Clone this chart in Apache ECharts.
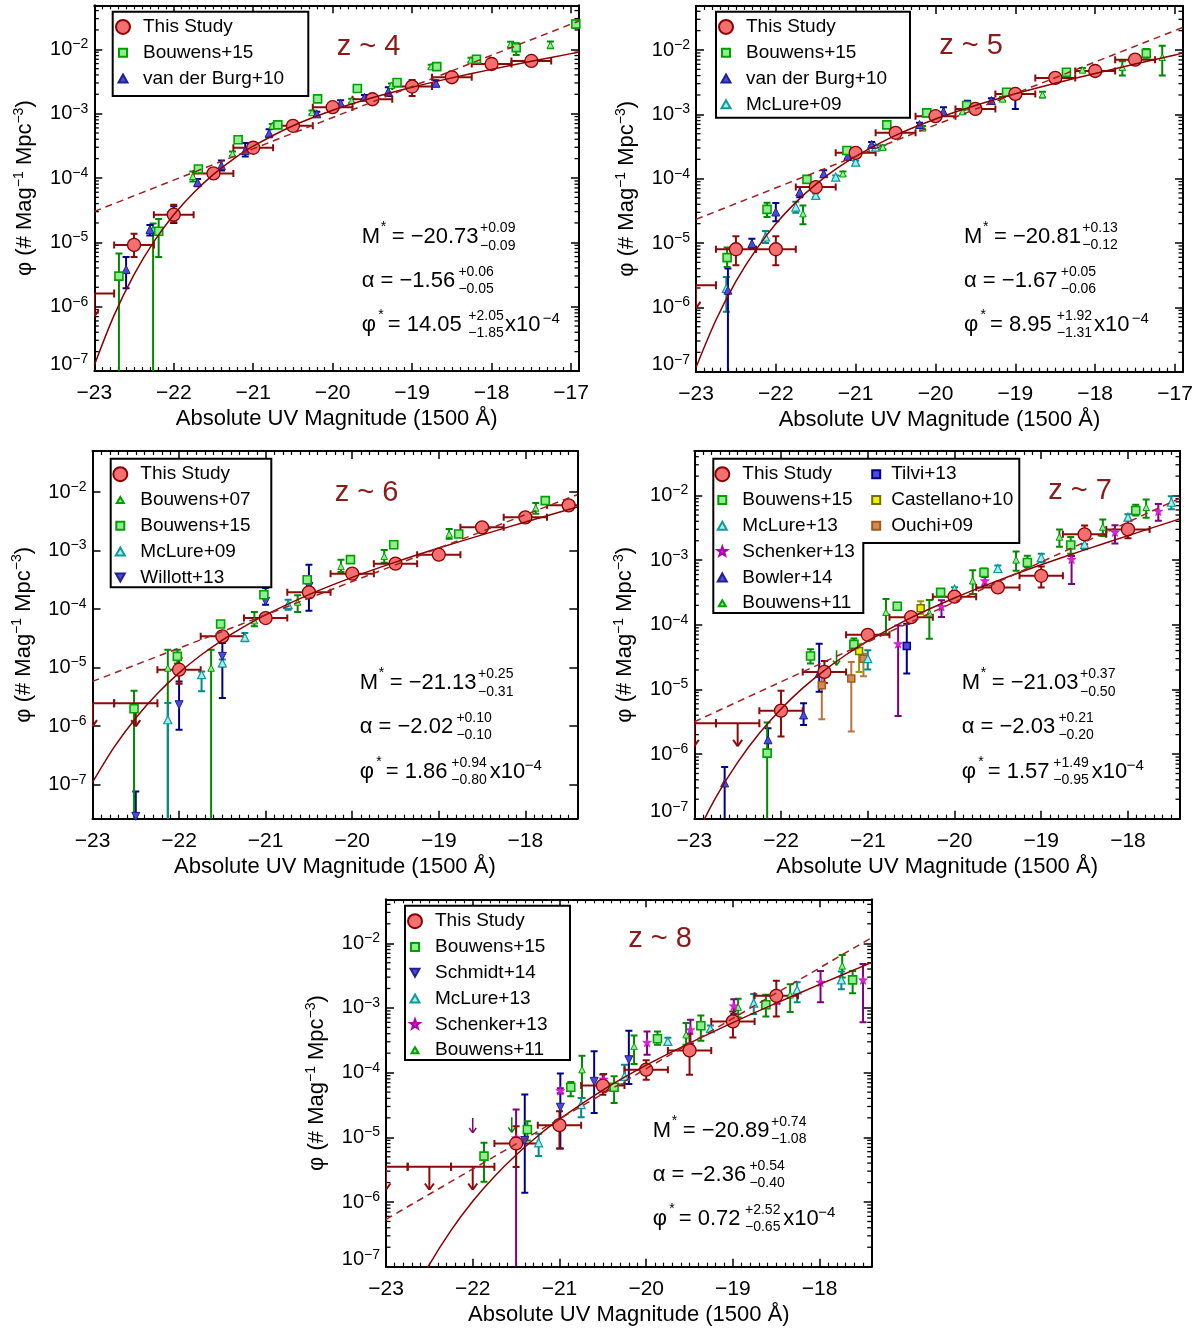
<!DOCTYPE html>
<html><head><meta charset="utf-8">
<script src="https://cdn.jsdelivr.net/npm/echarts@6/dist/echarts.min.js"></script>
<style>html,body{margin:0;padding:0;background:#fff}#c{width:1202px;height:1328px}</style>
</head><body><div id="c"></div>
<script>
// ---------------- DATA (values are log10 of phi) ----------------
// rows: [M_UV, log phi, log lower, log upper]; lower = -99 means the bar runs off the axis
const BIN_HALF = 0.25;

// z ~ 4
const z4ThisStudy = [[-22.5,-5.040,-5.227,-4.865],[-22.0,-4.570,-4.689,-4.415],[-21.5,-3.929,-3.960,-3.900],[-21.0,-3.530,-3.560,-3.500],[-20.5,-3.189,-3.215,-3.165],[-20.0,-2.900,-2.925,-2.875],[-19.5,-2.776,-2.800,-2.752],[-19.0,-2.579,-2.724,-2.476],[-18.5,-2.434,-2.458,-2.410],[-18.0,-2.228,-2.252,-2.204],[-17.5,-2.181,-2.205,-2.157]];
const z4ThisStudyUL = [[-23.0,-5.795]];
const z4Bouwens15 = [[-22.69,-5.526,-99,-5.175],[-22.19,-4.828,-5.227,-4.637],[-21.69,-3.861,-3.89,-3.83],[-21.19,-3.406,-3.43,-3.38],[-20.69,-3.174,-3.20,-3.15],[-20.19,-2.770,-2.80,-2.74],[-19.69,-2.610,-2.64,-2.58],[-19.19,-2.517,-2.55,-2.49],[-18.69,-2.269,-2.30,-2.24],[-18.19,-2.155,-2.19,-2.12],[-17.69,-1.974,-2.088,-1.907],[-16.94,-1.607,-1.67,-1.55]];
const z4Bouwens07 = [[-22.26,-4.80,-99,-4.709],[-21.76,-3.975,-4.053,-3.898],[-21.26,-3.624,-3.66,-3.59],[-20.76,-3.189,-3.22,-3.16],[-20.26,-2.982,-3.01,-2.95],[-19.76,-2.80,-2.83,-2.77],[-19.26,-2.558,-2.59,-2.53],[-18.76,-2.269,-2.30,-2.24],[-18.26,-2.165,-2.20,-2.13],[-17.76,-1.922,-1.969,-1.881],[-17.26,-1.933,-1.984,-1.880]];
const z4vanderBurg10 = [[-22.60,-5.423,-5.713,-5.227],[-22.30,-4.802,-4.895,-4.730],[-22.00,-4.58,-4.70,-4.44],[-21.70,-4.068,-4.13,-4.017],[-21.40,-3.810,-3.882,-3.727],[-21.10,-3.572,-3.665,-3.458],[-20.80,-3.303,-3.365,-3.241],[-20.50,-3.20,-3.25,-3.15],[-20.20,-3.003,-3.04,-2.97],[-19.90,-2.838,-2.89,-2.79],[-19.60,-2.745,-2.78,-2.71],[-19.30,-2.657,-2.724,-2.59],[-18.70,-2.527,-2.58,-2.48]];
const z4FitSolid = [[-23,-6.910],[-22.75,-6.132],[-22.5,-5.502],[-22.25,-4.990],[-22,-4.571],[-21.75,-4.228],[-21.5,-3.943],[-21.25,-3.706],[-21,-3.505],[-20.5,-3.188],[-20,-2.946],[-19.5,-2.752],[-19,-2.589],[-18.5,-2.444],[-18,-2.312],[-17.5,-2.187],[-17,-2.067],[-16.9,-2.043]];
const z4FitDashed = [[-23,-4.52],[-20,-3.06],[-16.9,-1.56]];
const z4Fit = [['−20.73','+0.09','−0.09'],['−1.56','+0.06','−0.05'],['14.05','+2.05','−1.85']];

// z ~ 5
const z5ThisStudy = [[-22.5,-5.097,-5.345,-4.896],[-22.0,-5.097,-5.345,-4.896],[-21.5,-4.130,-4.16,-4.10],[-21.0,-3.598,-3.63,-3.57],[-20.5,-3.287,-3.31,-3.26],[-20.0,-3.029,-3.05,-3.00],[-19.5,-2.915,-2.94,-2.89],[-19.0,-2.683,-2.71,-2.66],[-18.5,-2.434,-2.46,-2.41],[-18.0,-2.326,-2.35,-2.30],[-17.5,-2.150,-2.17,-2.13]];
const z5ThisStudyUL = [[-23.0,-5.656]];
const z5Bouwens15 = [[-22.61,-5.227,-5.371,-5.071],[-22.11,-4.477,-4.596,-4.373],[-21.61,-4.011,-4.04,-3.98],[-21.11,-3.561,-3.59,-3.53],[-20.61,-3.163,-3.19,-3.14],[-20.11,-2.977,-3.00,-2.95],[-19.61,-2.863,-2.89,-2.84],[-19.11,-2.657,-2.68,-2.63],[-18.36,-2.346,-2.38,-2.32],[-17.36,-2.052,-2.12,-1.985]];
const z5Bouwens07 = [[-21.66,-4.544,-4.709,-4.415],[-21.16,-3.923,-3.96,-3.89],[-20.66,-3.510,-3.54,-3.48],[-20.16,-3.21,-3.24,-3.18],[-19.66,-2.957,-2.99,-2.93],[-19.16,-2.76,-2.79,-2.73],[-18.66,-2.693,-2.74,-2.65],[-18.16,-2.31,-2.34,-2.28],[-17.66,-2.269,-2.398,-2.176],[-17.16,-2.114,-2.398,-1.933]];
const z5vanderBurg10 = [[-22.60,-5.733,-99,-5.397],[-22.30,-5.009,-5.087,-4.932],[-22.00,-4.518,-4.663,-4.378],[-21.70,-4.208,-4.29,-4.13],[-21.40,-3.923,-3.97,-3.87],[-21.10,-3.655,-3.69,-3.62],[-20.80,-3.468,-3.50,-3.43],[-20.20,-3.158,-3.19,-3.13],[-19.90,-2.957,-3.02,-2.89],[-19.60,-2.853,-2.92,-2.79],[-19.30,-2.786,-2.82,-2.75],[-19.00,-2.708,-2.915,-2.62]];
const z5McLure09 = [[-22.62,-5.707,-6.069,-5.527],[-22.13,-4.906,-4.999,-4.813],[-21.75,-4.441,-4.53,-4.36],[-21.50,-4.26,-4.29,-4.23],[-21.25,-3.975,-4.00,-3.95],[-21.00,-3.743,-3.77,-3.72],[-20.75,-3.51,-3.54,-3.48]];
const z5FitSolid = [[-23,-6.935],[-22.75,-6.197],[-22.5,-5.596],[-22.25,-5.106],[-22,-4.702],[-21.75,-4.368],[-21.5,-4.089],[-21.25,-3.853],[-21,-3.652],[-20.5,-3.327],[-20,-3.073],[-19.5,-2.863],[-19,-2.681],[-18.5,-2.517],[-18,-2.364],[-17.5,-2.218],[-17,-2.076],[-16.9,-2.048]];
const z5FitDashed = [[-23,-4.632],[-20,-3.164],[-16.9,-1.648]];
const z5Fit = [['−20.81','+0.13','−0.12'],['−1.67','+0.05','−0.06'],['8.95','+1.92','−1.31']];

// z ~ 6
const z6ThisStudy = [[-22.0,-5.035,-5.274,-4.836],[-21.5,-4.466,-4.53,-4.40],[-21.0,-4.153,-4.19,-4.12],[-20.5,-3.714,-3.75,-3.68],[-20.0,-3.395,-3.43,-3.36],[-19.5,-3.224,-3.26,-3.19],[-19.0,-3.071,-3.10,-3.04],[-18.5,-2.604,-2.63,-2.58],[-18.0,-2.433,-2.47,-2.39],[-17.5,-2.228,-2.26,-2.20]];
const z6ThisStudyUL = [[-23.0,-5.61],[-22.5,-5.61]];
const z6Bouwens15 = [[-22.52,-5.702,-99,-5.394],[-22.02,-4.808,-4.93,-4.694],[-21.52,-4.255,-4.29,-4.22],[-21.02,-3.754,-3.79,-3.72],[-20.52,-3.498,-3.53,-3.47],[-20.02,-3.156,-3.19,-3.13],[-19.52,-2.900,-2.93,-2.87],[-18.77,-2.718,-2.75,-2.69],[-17.77,-2.148,-2.18,-2.12]];
const z6Bouwens07 = [[-22.13,-5.007,-99,-4.694],[-21.63,-5.007,-99,-4.694],[-21.13,-4.198,-4.295,-4.05],[-20.63,-3.879,-4.05,-3.765],[-20.13,-3.27,-3.367,-3.156],[-19.63,-3.099,-3.21,-2.99],[-18.88,-2.718,-2.80,-2.633],[-17.88,-2.273,-2.37,-2.19]];
const z6McLure09 = [[-22.13,-5.89,-99,-5.605],[-21.74,-5.121,-5.405,-5.064],[-21.50,-4.921,-4.98,-4.86],[-21.24,-4.483,-4.55,-4.41],[-20.74,-3.925,-4.01,-3.84]];
const z6Willott13 = [[-22.5,-7.54,-99,-7.114],[-22.0,-5.633,-6.06,-5.235],[-21.5,-4.807,-5.52,-4.58],[-21.0,-3.868,-3.925,-3.64],[-20.5,-3.612,-4.027,-3.241]];
const z6FitSolid = [[-23,-6.960],[-22.75,-6.358],[-22.5,-5.859],[-22.25,-5.441],[-22,-5.089],[-21.75,-4.788],[-21.5,-4.528],[-21.25,-4.300],[-21,-4.098],[-20.5,-3.752],[-20,-3.458],[-19.5,-3.198],[-19,-2.958],[-18.5,-2.732],[-18,-2.513],[-17.5,-2.300],[-17.4,-2.258]];
const z6FitDashed = [[-23,-5.235],[-20,-3.530],[-17.4,-2.046]];
const z6Fit = [['−21.13','+0.25','−0.31'],['−2.02','+0.10','−0.10'],['1.86','+0.94','−0.80']];

// z ~ 7
const z7ThisStudy = [[-22.0,-5.328,-5.728,-5.021],[-21.5,-4.728,-4.90,-4.559],[-21.0,-4.154,-4.19,-4.12],[-20.5,-3.882,-3.92,-3.85],[-20.0,-3.564,-3.60,-3.53],[-19.5,-3.421,-3.45,-3.39],[-19.0,-3.241,-3.421,-3.097],[-18.5,-2.60,-2.754,-2.462],[-18.0,-2.523,-2.662,-2.385]];
const z7ThisStudyUL = [[-23.0,-5.523],[-22.5,-5.523]];
const z7Bouwens15 = [[-22.16,-5.985,-99,-5.513],[-21.66,-4.482,-4.60,-4.379],[-21.16,-4.303,-4.38,-4.21],[-20.66,-3.713,-3.77,-3.66],[-20.16,-3.497,-3.54,-3.45],[-19.66,-3.19,-3.25,-3.13],[-19.16,-3.036,-3.11,-2.93],[-18.66,-2.764,-2.90,-2.64],[-17.91,-2.231,-2.31,-2.14]];
const z7McLure13 = [[-21.0,-4.523,-4.692,-4.395],[-20.0,-3.446,-3.49,-3.42],[-19.5,-3.128,-3.17,-3.08],[-19.0,-2.959,-3.03,-2.90],[-18.5,-2.754,-2.83,-2.61],[-18.0,-2.333,-2.446,-2.29],[-17.5,-2.103,-2.21,-2.01]];
const z7Schenker13 = [[-20.65,-4.292,-5.41,-4.01],[-20.15,-3.718,-3.88,-3.62],[-19.65,-3.318,-3.39,-3.26],[-18.65,-2.985,-3.369,-2.933],[-18.15,-2.564,-2.74,-2.46],[-17.65,-2.241,-2.39,-2.13]];
const z7Bowler14 = [[-22.65,-6.446,-99,-6.20],[-22.15,-5.779,-5.95,-5.60],[-21.74,-5.395,-5.549,-5.215],[-21.56,-4.75,-5.036,-4.292]];
const z7Tilvi13 = [[-20.55,-4.328,-4.754,-3.985]];
const z7Castellano10 = [[-21.10,-4.405,-4.728,-4.292],[-20.39,-3.744,-3.831,-3.636]];
const z7Ouchi09 = [[-21.53,-4.933,-5.462,-4.754],[-21.19,-4.831,-5.651,-4.574],[-21.05,-4.523,-4.795,-4.446]];
const z7Bouwens11 = [[-20.79,-3.805,-4.138,-3.60],[-20.29,-3.815,-4.215,-3.615],[-19.79,-3.318,-3.523,-3.154],[-19.29,-2.995,-3.164,-2.867],[-18.79,-2.641,-2.79,-2.523],[-18.29,-2.487,-2.626,-2.369],[-17.79,-2.18,-2.344,-2.062]];
const z7Bouwens11UL = [[-21.36,-4.395]];
const z7FitSolid = [[-23,-7.318],[-22.75,-6.666],[-22.5,-6.128],[-22.25,-5.679],[-22,-5.301],[-21.75,-4.980],[-21.5,-4.704],[-21.25,-4.463],[-21,-4.250],[-20.5,-3.888],[-20,-3.584],[-19.5,-3.316],[-19,-3.071],[-18.5,-2.840],[-18,-2.619],[-17.5,-2.403],[-17.4,-2.359]];
const z7FitDashed = [[-23,-5.50],[-20,-3.646],[-17.4,-2.04]];
const z7Fit = [['−21.03','+0.37','−0.50'],['−2.03','+0.21','−0.20'],['1.57','+1.49','−0.95']];

// z ~ 8
const z8ThisStudy = [[-21.5,-5.095,-5.46,-4.828],[-21.0,-4.812,-5.172,-4.596],[-20.5,-4.20,-4.34,-4.03],[-20.0,-3.954,-4.108,-3.81],[-19.5,-3.656,-4.031,-3.398],[-19.0,-3.208,-3.455,-3.054],[-18.5,-2.812,-3.131,-2.581]];
const z8ThisStudyUL = [[-23.0,-5.455],[-22.5,-5.455],[-22.0,-5.455]];
const z8Bouwens15 = [[-21.87,-5.29,-5.686,-5.085],[-21.37,-4.879,-5.049,-4.751],[-20.87,-4.226,-4.365,-4.144],[-20.37,-4.226,-4.468,-4.057],[-19.87,-3.476,-3.568,-3.362],[-19.37,-3.275,-3.506,-3.116],[-18.62,-2.951,-3.131,-2.797],[-17.62,-2.566,-2.771,-2.427]];
const z8Schmidt14 = [[-21.40,-5.049,-5.856,-4.339],[-20.99,-4.535,-5.172,-4.015],[-20.60,-4.134,-4.622,-3.671],[-20.20,-3.80,-4.175,-3.352]];
const z8McLure13 = [[-21.24,-5.085,-5.29,-4.946],[-20.75,-4.494,-4.689,-4.391],[-20.25,-4.057,-4.175,-3.877],[-19.75,-3.517,-3.57,-3.46],[-19.26,-3.321,-3.37,-3.27],[-18.76,-2.925,-3.095,-2.785],[-18.26,-2.72,-2.91,-2.602],[-17.75,-2.566,-2.71,-2.437]];
const z8Schenker13 = [[-21.50,-5.008,-99,-4.571],[-20.99,-4.278,-4.32,-4.24],[-20.49,-4.10,-4.15,-4.02],[-19.99,-3.532,-3.722,-3.362],[-19.49,-3.337,-3.55,-3.183],[-18.99,-2.967,-3.095,-2.864],[-18.49,-2.889,-2.93,-2.85],[-17.99,-2.602,-2.91,-2.427],[-17.50,-2.566,-3.219,-2.319]];
const z8Schenker13UL = [[-22.0,-4.70]];
const z8Bouwens11 = [[-20.74,-3.954,-4.391,-3.738],[-20.14,-3.594,-3.866,-3.424],[-19.54,-3.414,-3.568,-3.234],[-18.94,-2.987,-3.146,-2.859],[-18.34,-2.797,-3.064,-2.632],[-17.74,-2.35,-2.53,-2.18]];
const z8Bouwens11UL = [[-21.55,-4.689]];
const z8FitSolid = [[-23,-8.358],[-22.75,-7.599],[-22.5,-6.968],[-22.25,-6.438],[-22,-5.989],[-21.75,-5.605],[-21.5,-5.272],[-21.25,-4.979],[-21,-4.719],[-20.5,-4.269],[-20,-3.885],[-19.5,-3.543],[-19,-3.226],[-18.5,-2.926],[-18,-2.636],[-17.5,-2.353],[-17.4,-2.296]];
const z8FitDashed = [[-23,-6.267],[-20,-3.939],[-17.4,-1.913]];
const z8Fit = [['−20.89','+0.74','−1.08'],['−2.36','+0.54','−0.40'],['0.72','+2.52','−0.65']];

const panelLabels = ['z ~ 4', 'z ~ 5', 'z ~ 6', 'z ~ 7', 'z ~ 8'];

// ---------------- STYLE / LAYOUT ----------------
const FONT = "'Liberation Sans', Arial, Helvetica, sans-serif";
const MINUS = '\u2212';
const STAR = 'path://M0,-10L2.35,-3.24L9.51,-3.09L3.8,1.24L5.88,8.09L0,4L-5.88,8.09L-3.8,1.24L-9.51,-3.09L-2.35,-3.24Z';
const STY = {
  ts:   {sym:'circle', size:13, fill:'#f27070', stroke:'#8b0000', bw:1.3, bar:'#8b0a0a'},
  b15:  {sym:'rect', size:8, fill:'#90ee90', stroke:'#00a000', bw:1.6, bar:'#008a00'},
  btri: {sym:'triangle', size:6.5, fill:'#90ee90', stroke:'#00a000', bw:1, bar:'#008a00'},
  blue: {sym:'triangle', size:8, fill:'#4a4ae0', stroke:'#202090', bw:1, bar:'#00008b'},
  bluei:{sym:'triangle', rot:180, size:8, fill:'#4a4ae0', stroke:'#202090', bw:1, bar:'#00008b'},
  cyan: {sym:'triangle', size:8, fill:'#a0f0f0', stroke:'#109a9a', bw:1.2, bar:'#008b8b'},
  star: {sym:STAR, size:9, fill:'#e020e0', stroke:'#b000b0', bw:0.5, bar:'#800080'},
  tilvi:{sym:'rect', size:7, fill:'#4a4ae0', stroke:'#00008b', bw:1.5, bar:'#00008b'},
  cast: {sym:'rect', size:7, fill:'#f0f000', stroke:'#707000', bw:1.5, bar:'#9a9a00'},
  ouchi:{sym:'rect', size:7, fill:'#d98a4a', stroke:'#a05a20', bw:1.5, bar:'#b8753c'}
};
const ICON = {
  circle: 'circle',
  sq: 'path://M0,0M14,14M3,3L11,3L11,11L3,11Z',
  tri: 'path://M0,0M14,14M7,3L11.5,11L2.5,11Z',
  stri: 'path://M0,0M14,14M7,4L10.5,10L3.5,10Z',
  itri: 'path://M0,0M14,14M2.5,3L11.5,3L7,11Z',
  star: 'path://M-14,-14M14,14M0,-10L2.35,-3.24L9.51,-3.09L3.8,1.24L5.88,8.09L0,4L-5.88,8.09L-3.8,1.24L-9.51,-3.09L-2.35,-3.24Z'
};

const PANELS = [
  {grid:{left:94.3, top:5.3, width:484.7, height:365.7}, x:[-23,-16.9], y:[-7,-1.316], minor:true,
   ts:z4ThisStudy, ul:z4ThisStudyUL, solid:z4FitSolid, dashed:z4FitDashed, fit:z4Fit,
   lit:[['Bouwens+07','btri',z4Bouwens07],['van der Burg+10','blue',z4vanderBurg10],['Bouwens+15','b15',z4Bouwens15]],
   label:[336.7,46.7], ann:{x0:361.7,yM:237,yA:281,yP:325,pSup:106.6,x10:143.3,e4:181}},
  {grid:{left:696, top:6, width:487, height:365.7}, x:[-23,-16.9], y:[-7,-1.316], minor:true,
   ts:z5ThisStudy, ul:z5ThisStudyUL, solid:z5FitSolid, dashed:z5FitDashed, fit:z5Fit,
   lit:[['Bouwens+07','btri',z5Bouwens07],['McLure+09','cyan',z5McLure09],['van der Burg+10','blue',z5vanderBurg10],['Bouwens+15','b15',z5Bouwens15]],
   label:[939.3,46], ann:{x0:964,yM:236.7,yA:281,yP:325,pSup:92.7,x10:130,e4:167.7}},
  {grid:{left:92.5, top:451, width:484.8, height:367.7}, x:[-23,-17.4], y:[-7.58,-1.30], minor:false,
   ts:z6ThisStudy, ul:z6ThisStudyUL, solid:z6FitSolid, dashed:z6FitDashed, fit:z6Fit,
   lit:[['Bouwens+07','btri',z6Bouwens07],['McLure+09','cyan',z6McLure09],['Willott+13','bluei',z6Willott13],['Bouwens+15','b15',z6Bouwens15]],
   label:[334.7,493], ann:{x0:359.7,yM:683,yA:727.3,yP:772,pSup:91.6,x10:130,e4:165}},
  {grid:{left:694.3, top:451, width:485.7, height:367.7}, x:[-23,-17.4], y:[-7,-1.31], minor:true,
   ts:z7ThisStudy, ul:z7ThisStudyUL, solid:z7FitSolid, dashed:z7FitDashed, fit:z7Fit,
   lit:[['Ouchi+09','ouchi',z7Ouchi09],['Castellano+10','cast',z7Castellano10],['Bouwens+11','btri',z7Bouwens11,z7Bouwens11UL],['Tilvi+13','tilvi',z7Tilvi13],['Bowler+14','blue',z7Bowler14],['McLure+13','cyan',z7McLure13],['Schenker+13','star',z7Schenker13],['Bouwens+15','b15',z7Bouwens15]],
   label:[1048.3,491.3], ann:{x0:961.7,yM:683,yA:727.3,yP:772,pSup:91.6,x10:130,e4:165}},
  {grid:{left:386, top:899.3, width:485.7, height:367.4}, x:[-23,-17.4], y:[-7,-1.32], minor:true,
   ts:z8ThisStudy, ul:z8ThisStudyUL, solid:z8FitSolid, dashed:z8FitDashed, fit:z8Fit,
   lit:[['Bouwens+11','btri',z8Bouwens11,z8Bouwens11UL],['McLure+13','cyan',z8McLure13],['Schmidt+14','bluei',z8Schmidt14],['Schenker+13','star',z8Schenker13,z8Schenker13UL],['Bouwens+15','b15',z8Bouwens15]],
   label:[628.3,939.3], ann:{x0:652.7,yM:1130.7,yA:1175,yP:1219,pSup:92.3,x10:130.6,e4:165.6}}
];

const LEGENDS = [
  {left:115, top:17.4, iw:30, items:[['This Study','circle'],['Bouwens+15','sq'],['van der Burg+10','tri']], box:[[112.7,11.7],[308.3,11.7],[308.3,96],[112.7,96]]},
  {left:718, top:17.4, iw:30, items:[['This Study','circle'],['Bouwens+15','sq'],['van der Burg+10','tri'],['McLure+09','tri']], box:[[716,11.7],[910,11.7],[910,117.7],[716,117.7]]},
  {left:112.3, top:464.7, iw:30, items:[['This Study','circle'],['Bouwens+07','stri'],['Bouwens+15','sq'],['McLure+09','tri'],['Willott+13','itri']], box:[[110.7,458.7],[271.3,458.7],[271.3,587.3],[110.7,587.3]]},
  {left:714.3, top:464.7, iw:30, items:[['This Study','circle'],['Bouwens+15','sq'],['McLure+13','tri'],['Schenker+13','star'],['Bowler+14','tri'],['Bouwens+11','stri']], box:[[713.3,458.7],[1019.3,458.7],[1019.3,543],[863.3,543],[863.3,613],[713.3,613]]},
  {left:868.2, top:464.7, iw:20, items:[['Tilvi+13','sq'],['Castellano+10','sq'],['Ouchi+09','sq']], box:null},
  {left:407, top:911.7, iw:30, items:[['This Study','circle'],['Bouwens+15','sq'],['Schmidt+14','itri'],['McLure+13','tri'],['Schenker+13','star'],['Bouwens+11','stri']], box:[[405,905.7],[570,905.7],[570,1060],[405,1060]]}
];

const X_TITLE = 'Absolute UV Magnitude (1500 Å)';
const Y_TITLE = '{a|φ (# Mag}{s|' + MINUS + '1}{a| Mpc}{s|' + MINUS + '3}{a|)}';

// ---------------- HELPERS ----------------
const P10 = v => Math.pow(10, v);
const MINOR_Y = [];
for (let k = -9; k <= 0; k++) for (let m = 2; m <= 9; m++) MINOR_Y.push(m * Math.pow(10, k));

function xFmt(v) {
  const r = Math.round(v);
  if (Math.abs(v - r) > 1e-6) return '';
  return (r < 0 ? MINUS : '') + Math.abs(r);
}
function yFmt(minLog) {
  return function (v) {
    const l = Math.log10(v), e = Math.round(l);
    if (Math.abs(l - e) > 1e-4) return '';
    const s = '{b|10}{s|' + (e < 0 ? MINUS + (-e) : e) + '}';
    if (Math.abs(e - minLog) < 1e-4) return s + '\n{e| }';
    return s;
  };
}
function lineEl(kids, st, x1, y1, x2, y2) {
  kids.push({type:'line', shape:{x1:x1, y1:y1, x2:x2, y2:y2}, style:st});
}
function makeErr(color, lw, cap) {
  return function (params, api) {
    const cs = params.coordSys;
    const T = cs.y, B = cs.y + cs.height, L = cs.x, R = cs.x + cs.width;
    const m = api.value(0), v = api.value(1), lo = api.value(2), hi = api.value(3), dm = api.value(4);
    const p = api.coord([m, v]);
    const kids = [], st = {stroke: color, lineWidth: lw};
    if (hi > 0 && lo > 0) {
      let yh = api.coord([m, hi])[1], yl = api.coord([m, lo])[1];
      const cH = yh >= T, cL = yl <= B;
      yh = Math.max(yh, T); yl = Math.min(yl, B);
      if (p[0] >= L - 1 && p[0] <= R + 1 && yl > yh) {
        lineEl(kids, st, p[0], yh, p[0], yl);
        if (cH) lineEl(kids, st, p[0] - cap, yh, p[0] + cap, yh);
        if (cL) lineEl(kids, st, p[0] - cap, yl, p[0] + cap, yl);
      }
    }
    if (dm > 0) {
      let xl = api.coord([m - dm, v])[0], xr = api.coord([m + dm, v])[0];
      const cl = xl >= L, cr = xr <= R;
      xl = Math.max(xl, L); xr = Math.min(xr, R);
      lineEl(kids, st, xl, p[1], xr, p[1]);
      if (cl) lineEl(kids, st, xl, p[1] - cap, xl, p[1] + cap);
      if (cr) lineEl(kids, st, xr, p[1] - cap, xr, p[1] + cap);
    }
    return {type:'group', children:kids};
  };
}
function makeUL(color, lw, cap, len, head, withBar) {
  return function (params, api) {
    const cs = params.coordSys;
    const L = cs.x, R = cs.x + cs.width;
    const m = api.value(0), v = api.value(1);
    const p = api.coord([m, v]);
    const kids = [], st = {stroke: color, lineWidth: lw};
    if (withBar) {
      let xl = api.coord([m - BIN_HALF, v])[0], xr = api.coord([m + BIN_HALF, v])[0];
      const cl = xl >= L, cr = xr <= R;
      xl = Math.max(xl, L); xr = Math.min(xr, R);
      lineEl(kids, st, xl, p[1], xr, p[1]);
      if (cl) lineEl(kids, st, xl, p[1] - cap, xl, p[1] + cap);
      if (cr) lineEl(kids, st, xr, p[1] - cap, xr, p[1] + cap);
    }
    const ty = p[1] + len;
    lineEl(kids, st, p[0], p[1], p[0], ty);
    lineEl(kids, st, p[0] - head, ty - head * 1.4, p[0], ty);
    lineEl(kids, st, p[0] + head, ty - head * 1.4, p[0], ty);
    return {type:'group', children:kids};
  };
}
function minorRender(params, api) {
  const cs = params.coordSys;
  const kids = [], st = {stroke:'#000', lineWidth:1.3};
  MINOR_Y.forEach(function (v) {
    const y = api.coord([-20, v])[1];
    if (y < cs.y + 1 || y > cs.y + cs.height - 1) return;
    lineEl(kids, st, cs.x, y, cs.x + 4.5, y);
    lineEl(kids, st, cs.x + cs.width - 4.5, y, cs.x + cs.width, y);
  });
  return {type:'group', children:kids};
}

// ---------------- OPTION ----------------
const grid = [], xAxis = [], yAxis = [], series = [], graphic = [];
const yRich = {
  b:{fontSize:20, lineHeight:24, fontFamily:FONT, color:'#000'},
  s:{fontSize:14, lineHeight:14, verticalAlign:'top', fontFamily:FONT, color:'#000'},
  e:{fontSize:14, lineHeight:14, fontFamily:FONT}
};

PANELS.forEach(function (P, i) {
  grid.push(Object.assign({containLabel:false}, P.grid));
  const common = {type:'value', gridIndex:i, min:P.x[0], max:P.x[1], interval:1,
    axisLine:{onZero:false, lineStyle:{color:'#000', width:2}},
    axisTick:{show:true, inside:true, length:8, lineStyle:{color:'#000', width:1.5}},
    minorTick:{show:true, splitNumber:10, length:4, lineStyle:{color:'#000', width:1.2}},
    splitLine:{show:false}, minorSplitLine:{show:false}};
  xAxis.push(Object.assign({}, common, {position:'bottom',
    axisLabel:{show:true, margin:12, fontSize:21, fontFamily:FONT, color:'#000', formatter:xFmt},
    name:X_TITLE, nameLocation:'middle', nameGap:37, nameTextStyle:{fontSize:22, fontFamily:FONT, color:'#000'}}));
  xAxis.push(Object.assign({}, common, {position:'top', axisLabel:{show:false}}));
  const yc = {type:'log', logBase:10, gridIndex:i, min:P10(P.y[0]), max:P10(P.y[1]),
    axisLine:{onZero:false, lineStyle:{color:'#000', width:2}},
    axisTick:{show:true, inside:true, length:8, lineStyle:{color:'#000', width:1.5}},
    minorTick:{show:false}, splitLine:{show:false}, minorSplitLine:{show:false}};
  yAxis.push(Object.assign({}, yc, {position:'left',
    axisLabel:{show:true, margin:6, formatter:yFmt(P.y[0]), rich:yRich},
    name:Y_TITLE, nameLocation:'middle', nameGap:56,
    nameTextStyle:{fontSize:22, fontFamily:FONT, color:'#000', rich:{
      a:{fontSize:22, lineHeight:26, fontFamily:FONT, color:'#000'},
      s:{fontSize:14, lineHeight:14, verticalAlign:'top', fontFamily:FONT, color:'#000'}}}}));
  yAxis.push(Object.assign({}, yc, {position:'right', axisLabel:{show:false}}));

  const xi = 2 * i, yi = 2 * i;
  if (P.minor) series.push({type:'custom', name:'ytick-minor-' + i, xAxisIndex:xi, yAxisIndex:yi, data:[[-20, 1e-3]], renderItem:minorRender, silent:true, clip:false});
  series.push({type:'line', name:'Schechter fit ' + i, xAxisIndex:xi, yAxisIndex:yi, data:P.solid.map(d => [d[0], P10(d[1])]),
    symbol:'none', showSymbol:false, smooth:0.3, clip:true, silent:true, lineStyle:{color:'#8b0000', width:1.5}});
  series.push({type:'line', name:'power-law fit ' + i, xAxisIndex:xi, yAxisIndex:yi, data:P.dashed.map(d => [d[0], P10(d[1])]),
    symbol:'none', showSymbol:false, clip:true, silent:true, lineStyle:{color:'#a02020', width:1.5, type:[7,5]}});
  P.lit.forEach(function (L) {
    const name = L[0], s = STY[L[1]], arr = L[2], ul = L[3];
    series.push({type:'custom', name:name + ' errors', xAxisIndex:xi, yAxisIndex:yi, clip:true, silent:true,
      renderItem:makeErr(s.bar, 2, 3.5), data:arr.map(r => [r[0], P10(r[1]), P10(r[2]), P10(r[3])])});
    if (ul) series.push({type:'custom', name:name + ' limits', xAxisIndex:xi, yAxisIndex:yi, clip:true, silent:true,
      renderItem:makeUL(s.bar, 1.5, 0, 15, 3.5, false), data:ul.map(r => [r[0], P10(r[1])])});
    series.push({type:'scatter', name:name, xAxisIndex:xi, yAxisIndex:yi, clip:true, silent:true,
      symbol:s.sym, symbolSize:s.size, symbolRotate:s.rot || 0,
      itemStyle:{color:s.fill, borderColor:s.stroke, borderWidth:s.bw, opacity:1},
      data:arr.map(r => [r[0], P10(r[1])])});
  });
  const t = STY.ts;
  series.push({type:'custom', name:'This Study limits', xAxisIndex:xi, yAxisIndex:yi, clip:true, silent:true,
    renderItem:makeUL(t.bar, 2, 4, 23, 4.5, true), data:P.ul.map(r => [r[0], P10(r[1])])});
  series.push({type:'custom', name:'This Study errors', xAxisIndex:xi, yAxisIndex:yi, clip:true, silent:true,
    renderItem:makeErr(t.bar, 2, 3.5), data:P.ts.map(r => [r[0], P10(r[1]), P10(r[2]), P10(r[3]), BIN_HALF])});
  series.push({type:'scatter', name:'This Study', xAxisIndex:xi, yAxisIndex:yi, clip:true, silent:true,
    symbol:t.sym, symbolSize:t.size, itemStyle:{color:t.fill, borderColor:t.stroke, borderWidth:t.bw, opacity:1},
    data:P.ts.map(r => [r[0], P10(r[1])])});

  // panel label + fit parameters
  function T(x, y, txt, fs, col) {
    graphic.push({type:'text', x:x, y:y, z:6, silent:true, style:{text:txt, fontSize:fs, fontFamily:FONT, fill:col || '#000',
      align:'left', verticalAlign:'middle', textAlign:'left', textVerticalAlign:'middle'}});
  }
  T(P.label[0], P.label[1], panelLabels[i], 29, '#8b1a1a');
  const a = P.ann, f = P.fit, x0 = a.x0;
  T(x0, a.yM, 'M', 22); T(x0 + 19, a.yM - 9.5, '*', 14); T(x0 + 30, a.yM, '= ' + f[0][0], 22);
  T(x0 + 118.3, a.yM - 8.7, f[0][1], 14); T(x0 + 118.3, a.yM + 8.7, f[0][2], 14);
  T(x0, a.yA, 'α = ' + f[1][0], 22);
  T(x0 + 96.7, a.yA - 9.3, f[1][1], 14); T(x0 + 96.7, a.yA + 8.3, f[1][2], 14);
  T(x0, a.yP, 'φ', 22); T(x0 + 16.5, a.yP - 10, '*', 14); T(x0 + 26, a.yP, '= ' + f[2][0], 22);
  T(x0 + a.pSup, a.yP - 9, f[2][1], 14); T(x0 + a.pSup, a.yP + 8.3, f[2][2], 14);
  T(x0 + a.x10, a.yP, 'x10', 22); T(x0 + a.e4, a.yP - 6, MINUS + '4', 15);
});

const legend = LEGENDS.map(function (Lg) {
  if (Lg.box) graphic.push({type:'polygon', z:3, silent:true, shape:{points:Lg.box}, style:{fill:'#fff', stroke:'#000', lineWidth:2}});
  return {orient:'vertical', left:Lg.left, top:Lg.top, padding:0, itemGap:6.8, itemWidth:Lg.iw, itemHeight:14,
    selectedMode:false, symbolRotate:0, z:5,
    data:Lg.items.map(it => ({name:it[0], icon:ICON[it[1]]})),
    textStyle:{fontSize:19, lineHeight:18, color:'#000', fontFamily:FONT}};
});

const chart = echarts.init(document.getElementById('c'), null, {renderer:'canvas'});
chart.setOption({
  animation:false, backgroundColor:'#fff', textStyle:{fontFamily:FONT},
  grid:grid, xAxis:xAxis, yAxis:yAxis, series:series, legend:legend, graphic:graphic
});
</script></body></html>
